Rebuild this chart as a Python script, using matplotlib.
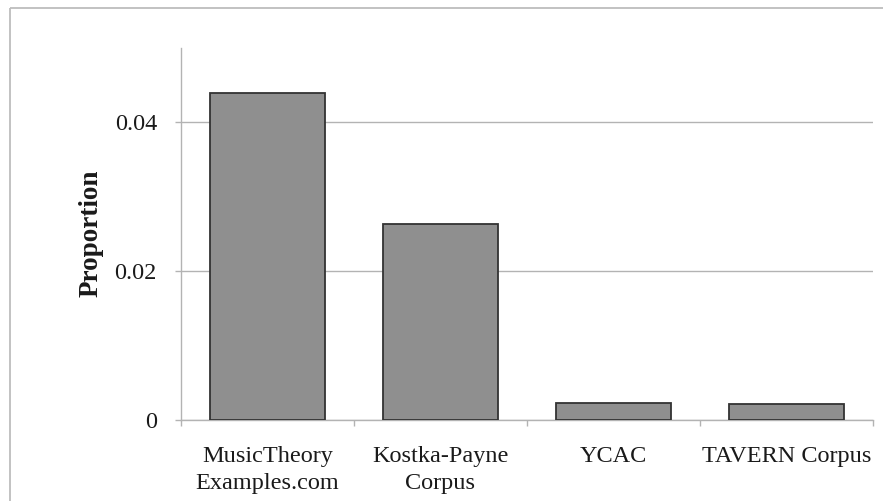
import numpy as np
import matplotlib
matplotlib.use('Agg')
import matplotlib.pyplot as plt
import matplotlib.patches as mpatches

# values
categories = ['MusicTheory\nExamples.com', 'Kostka-Payne\nCorpus', 'YCAC', 'TAVERN Corpus']
proportions = [0.0440, 0.0263, 0.00218, 0.00205]
y_ticks = [0, 0.02, 0.04]
y_tick_labels = ['0', '0.02', '0.04']

plt.rcParams['font.family'] = ['Liberation Serif', 'DejaVu Serif']

W, H = 883, 501
fig = plt.figure(figsize=(W / 100, H / 100), dpi=100)

# light frame around the whole chart, running off the right and bottom edges
frame = mpatches.Rectangle((10 / W, 1 - 8 / H), 2, -2, transform=fig.transFigure,
                           fill=False, edgecolor='#bdbdbd', linewidth=1.3)
fig.patches.append(frame)

ax = fig.add_axes([181 / W, 1 - 419.5 / H, (873 - 181) / W, (419.5 - 48) / H])

x = np.arange(len(categories))
ax.bar(x, proportions, width=0.67, color='#8f8f8f', edgecolor='#333333',
       linewidth=1.3, zorder=3)

ax.set_xlim(-0.5, len(categories) - 0.5)
ax.set_ylim(0, 0.05)

ax.set_yticks(y_ticks)
ax.set_yticklabels(y_tick_labels)
ax.yaxis.grid(True, color='#b3b3b3', linewidth=1.0, zorder=0)
ax.set_axisbelow(True)

# category labels centred under bars, ticks on the category boundaries
ax.set_xticks(x)
ax.set_xticklabels(categories, linespacing=1.4)
ax.set_xticks(np.arange(len(categories) + 1) - 0.5, minor=True)
ax.tick_params(axis='x', which='major', length=0, pad=19, labelsize=17.5,
               colors='#1a1a1a')
ax.tick_params(axis='x', which='minor', length=4.3, width=1.0, color='#b3b3b3')
ax.tick_params(axis='y', length=4.3, width=1.0, color='#b3b3b3', pad=13,
               labelsize=17.5, labelcolor='#1a1a1a')

for side in ['top', 'right']:
    ax.spines[side].set_visible(False)
for side in ['left', 'bottom']:
    ax.spines[side].set_color('#b3b3b3')
    ax.spines[side].set_linewidth(1.0)

ax.set_ylabel('Proportion', fontsize=19.5, fontweight='bold', color='#1a1a1a')
ax.yaxis.set_label_coords(-0.112, 0.5)

fig.savefig('out.png', dpi=100)
